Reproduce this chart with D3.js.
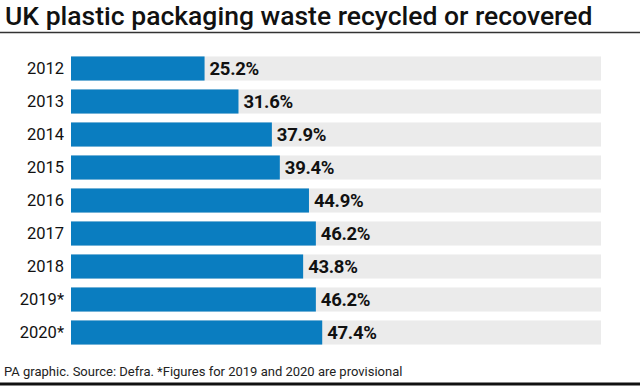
<!DOCTYPE html>
<html>
<head>
<meta charset="utf-8">
<script src="https://cdn.jsdelivr.net/npm/d3@7"></script>
<style>
  body { margin: 0; background: #fff; }
  svg { display: block; }
</style>
</head>
<body>
<div id="chart"></div>
<script>
var svgWidth = 640;
var svgHeight = 386;

var years = ["2012", "2013", "2014", "2015", "2016", "2017", "2018", "2019*", "2020*"];
var values = [25.2, 31.6, 37.9, 39.4, 44.9, 46.2, 43.8, 46.2, 47.4];

var svg = d3.select("#chart")
  .append("svg")
  .attr("width", svgWidth)
  .attr("height", svgHeight);

// title
svg.append("text")
  .attr("x", 5)
  .attr("y", 25)
  .attr("font-family", "Roboto, sans-serif")
  .attr("font-weight", 500)
  .attr("font-size", "26.5px")
  .attr("fill", "#111")
  .text("UK plastic packaging waste recycled or recovered");

svg.append("line")
  .attr("x1", 0).attr("x2", svgWidth)
  .attr("y1", 32.5).attr("y2", 32.5)
  .attr("stroke", "#333")
  .attr("stroke-width", 1.5);

var x = d3.scaleLinear()
  .domain([0, 100])
  .range([71, 601]);

var y = d3.scaleBand()
  .domain(years)
  .range([52, 349])
  .paddingInner(0.27)
  .paddingOuter(0.135);

// grey tracks
svg.selectAll(".track")
  .data(years)
  .enter()
  .append("rect")
  .attr("class", "track")
  .attr("x", x(0))
  .attr("y", d => y(d))
  .attr("width", x(100) - x(0))
  .attr("height", y.bandwidth())
  .attr("fill", "#ebebeb");

svg.selectAll(".bar")
  .data(values)
  .enter()
  .append("rect")
  .attr("class", "bar")
  .attr("x", x(0))
  .attr("y", (d, i) => y(years[i]))
  .attr("width", d => x(d) - x(0))
  .attr("height", y.bandwidth())
  .attr("fill", "#0a7dc0");

svg.selectAll(".val")
  .data(values)
  .enter()
  .append("text")
  .attr("class", "val")
  .attr("x", d => x(d) + 5)
  .attr("y", (d, i) => y(years[i]) + y.bandwidth() / 2)
  .attr("dy", "0.36em")
  .attr("font-family", "Roboto, sans-serif")
  .attr("font-weight", "bold")
  .attr("font-size", "18.5px")
  .attr("letter-spacing", "-0.3px")
  .attr("fill", "#111")
  .text(d => d.toFixed(1) + "%");

// year labels
svg.selectAll(".yr")
  .data(years)
  .enter()
  .append("text")
  .attr("class", "yr")
  .attr("x", 64)
  .attr("y", d => y(d) + y.bandwidth() / 2)
  .attr("dy", "0.36em")
  .attr("text-anchor", "end")
  .attr("font-family", "Roboto, sans-serif")
  .attr("font-size", "16.5px")
  .attr("fill", "#111")
  .text(d => d);

svg.append("text")
  .attr("x", 4)
  .attr("y", 376)
  .attr("font-family", "Roboto, sans-serif")
  .attr("font-size", "13px")
  .attr("fill", "#222")
  .text("PA graphic. Source: Defra. *Figures for 2019 and 2020 are provisional");

svg.append("line")
  .attr("x1", 0).attr("x2", svgWidth)
  .attr("y1", 384).attr("y2", 384)
  .attr("stroke", "#111")
  .attr("stroke-width", 3);
</script>
</body>
</html>
